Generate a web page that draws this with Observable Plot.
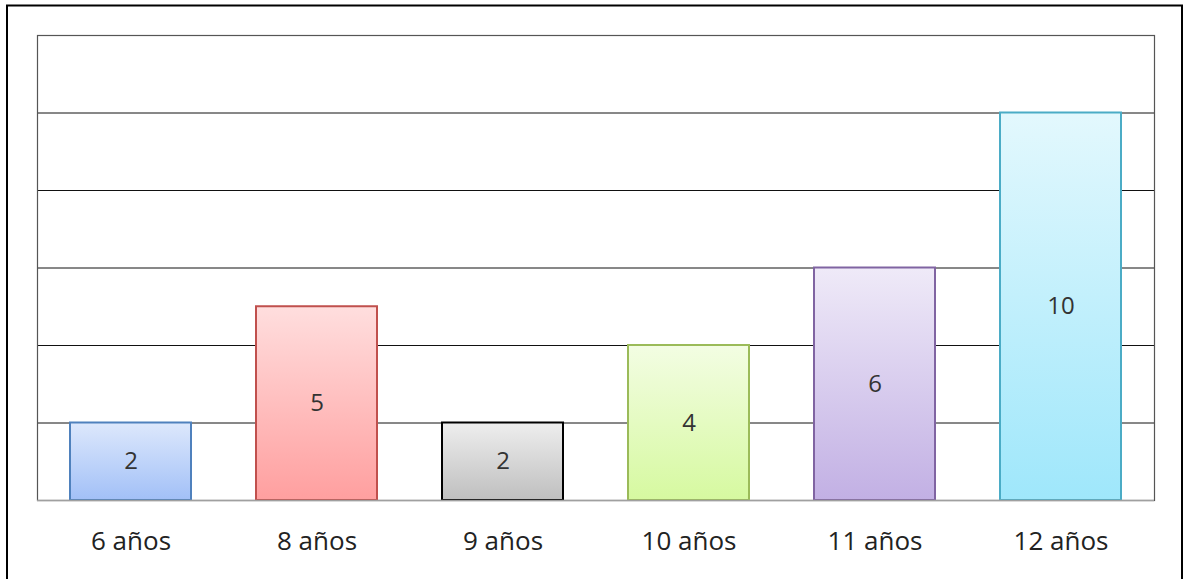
<!DOCTYPE html>
<html>
<head>
<meta charset="utf-8">
<script src="https://cdn.jsdelivr.net/npm/d3@7"></script>
<script src="https://cdn.jsdelivr.net/npm/@observablehq/plot@0.6"></script>
<style>
  html, body { margin: 0; padding: 0; background: #fff; }
  #chart svg { display: block; }
</style>
</head>
<body>
<div id="chart"></div>
<script>
const categories = ["6 años", "8 años", "9 años", "10 años", "11 años", "12 años"];
const values = [2, 5, 2, 4, 6, 10];
const gridTicks = [2, 4, 6, 8, 10];

const fillTop = ["#dde8fc", "#ffdede", "#eeeeee", "#f3fde3", "#efeaf8", "#e3f8fd"];
const fillBottom = ["#a2c0f7", "#ff9f9f", "#bfbfbf", "#d6f9a0", "#c2b0e4", "#9fe7fb"];
const strokes = ["#4f81bd", "#c0504d", "#000000", "#9bbb59", "#8064a2", "#4bacc6"];

const data = categories.map((c, i) => ({ cat: c, v: values[i], i }));

const chart = Plot.plot({
  width: 1186,
  height: 579,
  marginLeft: 37,
  marginRight: 32,
  marginTop: 35,
  marginBottom: 79,
  style: { fontFamily: "'Open Sans', sans-serif", background: "#fff", color: "#222" },
  x: { domain: categories, paddingInner: 0.35, paddingOuter: 0.175, label: null },
  y: { domain: [0, 12], axis: null },
  marks: [
    Plot.ruleY(gridTicks, { stroke: "#111", strokeWidth: 1 }),
    Plot.frame({ stroke: "#555", strokeWidth: 1.2 }),
    Plot.barY(data, {
      x: "cat",
      y: "v",
      fill: d => `url(#grad${d.i})`,
      stroke: d => strokes[d.i],
      strokeWidth: 2
    }),
    Plot.text(data, {
      x: "cat",
      y: d => d.v / 2,
      text: d => String(d.v),
      fontSize: 24,
      fill: "#333"
    }),
    Plot.ruleY([0], { stroke: "#a0a0a0", strokeWidth: 1.5 }),
    Plot.axisX({ tickSize: 0, tickPadding: 31, fontSize: 26, fill: "#222", label: null })
  ]
});

const svg = d3.select(chart);
const defs = svg.insert("defs", ":first-child");
fillTop.forEach((top, i) => {
  const g = defs.append("linearGradient")
    .attr("id", `grad${i}`)
    .attr("x1", 0).attr("y1", 0).attr("x2", 0).attr("y2", 1);
  g.append("stop").attr("offset", "0%").attr("stop-color", top);
  g.append("stop").attr("offset", "100%").attr("stop-color", fillBottom[i]);
});
svg.append("rect")
  .attr("x", 7).attr("y", 5.5)
  .attr("width", 1175).attr("height", 580)
  .attr("fill", "none")
  .attr("stroke", "#000")
  .attr("stroke-width", 2);

document.getElementById("chart").appendChild(chart);
</script>
</body>
</html>
